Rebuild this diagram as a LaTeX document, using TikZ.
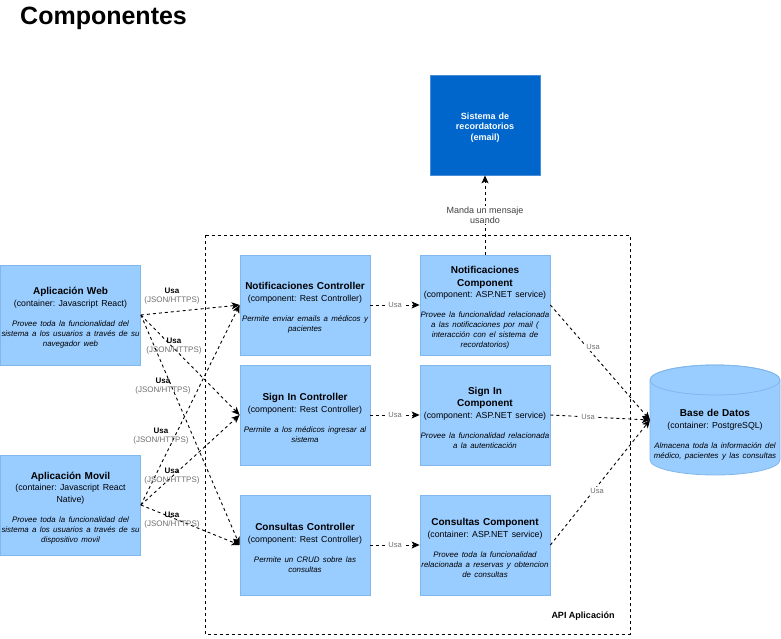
\documentclass[tikz,border=0pt]{standalone}
\usepackage{fontspec}
\setmainfont{Liberation Sans}
\usetikzlibrary{arrows.meta}
\definecolor{boxfill}{HTML}{99CCFF}
\definecolor{boxline}{HTML}{82B7EC}
\definecolor{extfill}{HTML}{0066CC}
\definecolor{extline}{HTML}{4A8FD6}
\definecolor{lblgray}{HTML}{6E6E6E}
\definecolor{lbldark}{HTML}{404040}
\frenchspacing
\newcommand{\cTitle}[1]{{\fontsize{10}{12.5}\selectfont\bfseries\rule{0pt}{13pt}#1\par}}
\newcommand{\cTech}[1]{{\fontsize{8.75}{11.5}\selectfont #1\par}\vspace{10pt}}
\newcommand{\cDesc}[1]{{\fontsize{7.9}{10}\selectfont\itshape #1\par}}
\newcommand{\relLbl}{{\bfseries Usa}\\{\color{lblgray}(JSON/HTTPS)}}
\tikzset{
  comp/.style={draw=boxline, fill=boxfill, line width=0.8pt, minimum width=130pt, minimum height=100pt,
    text width=144pt, inner xsep=-7pt, inner ysep=0pt, align=center},
  client/.style={comp, minimum width=140pt, text width=154pt},
  ext/.style={draw=extline, fill=extfill, line width=0.8pt, minimum width=110pt, minimum height=100pt,
    text width=110pt, inner xsep=0pt, align=center, text=white, font=\fontsize{9}{10.5}\selectfont\bfseries},
  rel/.style={draw=black, line width=0.9pt, dash pattern=on 3pt off 3pt, -{Stealth[length=8pt,width=7pt,inset=2pt]}},
  rl/.style={align=center, inner sep=0.5pt, font=\fontsize{8}{9.5}\selectfont},
  hl/.style={fill=white, inner sep=1.5pt, text=lblgray, font=\fontsize{7.5}{9}\selectfont},
  bnd/.style={draw=black, line width=0.9pt, dash pattern=on 3pt off 3pt}
}
\begin{document}
\begin{tikzpicture}[x=1pt, y=-1pt]
\useasboundingbox (0,0) rectangle (781,639);
% title
\node[anchor=base west, inner sep=0pt, font=\fontsize{25}{30}\selectfont\bfseries] (title) at (20,25) {Componentes};
% boundary
\draw[bnd] (205,235) rectangle (630,634);
\node[font=\fontsize{9}{11}\selectfont\bfseries] (api) at (583,616) {API Aplicación};
% clients
\node[client] (web) at (70.5,315) {\cTitle{Aplicación Web}\cTech{(container: Javascript React)}\cDesc{Provee toda la funcionalidad del\\sistema a los usuarios a través de su\\navegador web}};
\node[client] (movil) at (70.5,505) {\cTitle{Aplicación Movil}\cTech{(container: Javascript React\\Native)}\cDesc{Provee toda la funcionalidad del\\sistema a los usuarios a través de su\\dispositivo movil}};
% controllers
\node[comp] (nc) at (305,305) {\cTitle{Notificaciones Controller}\cTech{(component: Rest Controller)}\cDesc{Permite enviar emails a médicos y\\pacientes}};
\node[comp] (sc) at (305,415) {\cTitle{Sign In Controller}\cTech{(component: Rest Controller)}\cDesc{Permite a los médicos ingresar al\\sistema}};
\node[comp] (cc) at (305,545) {\cTitle{Consultas Controller}\cTech{(component: Rest Controller)}\cDesc{Permite un CRUD sobre las\\consultas}};
% components
\node[comp] (ncomp) at (485,305) {\cTitle{Notificaciones\\Component}\cTech{(component: ASP.NET service)}\cDesc{Provee la funcionalidad relacionada\\a las notificaciones por mail (\\interacción con el sistema de\\recordatorios)}};
\node[comp] (scomp) at (485,415) {\cTitle{Sign In\\Component}\cTech{(component: ASP.NET service)}\cDesc{Provee la funcionalidad relacionada\\a la autenticación}};
\node[comp] (ccomp) at (485,545) {\cTitle{Consultas Component}\cTech{(container: ASP.NET service)}\cDesc{Provee toda la funcionalidad\\relacionada a reservas y obtencion\\de consultas}};
% external system
\node[ext] (sis) at (485,125) {\rule{0pt}{11pt}Sistema de\\recordatorios\\(email)};
% database cylinder
\filldraw[fill=boxfill, draw=boxline, line width=0.8pt] (650,380) -- (650,460)
  arc[start angle=180, end angle=360, x radius=65pt, y radius=15pt] -- (780,380)
  arc[start angle=0, end angle=180, x radius=65pt, y radius=15pt] -- cycle;
\draw[draw=boxline, line width=0.8pt] (715,380) ellipse [x radius=65pt, y radius=15pt];
\node[minimum width=130pt, minimum height=110pt, text width=144pt, inner xsep=-7pt, inner ysep=0pt, align=center] (db) at (715,432)
  {\cTitle{Base de Datos}\cTech{(container: PostgreSQL)}\cDesc{Almacena toda la información del\\médico, pacientes y las consultas}};
\coordinate (dbw) at (650,420);
% client relations
\draw[rel] (web.east) -- (nc.west) node[rl] (l1) at (172,296) {\relLbl};
\draw[rel] (web.east) -- (sc.west) node[rl] (l2) at (174,346) {\relLbl};
\draw[rel] (web.east) -- (cc.west) node[rl] (l3) at (163,386) {\relLbl};
\draw[rel] (movil.east) -- (nc.west) node[rl] (l4) at (161,436) {\relLbl};
\draw[rel] (movil.east) -- (sc.west) node[rl] (l5) at (172,476) {\relLbl};
\draw[rel] (movil.east) -- (cc.west) node[rl] (l6) at (172,520) {\relLbl};
% controller -> component
\draw[rel] (nc.east) -- node[hl] (h1) {Usa} (ncomp.west);
\draw[rel] (sc.east) -- node[hl] (h2) {Usa} (scomp.west);
\draw[rel] (cc.east) -- node[hl] (h3) {Usa} (ccomp.west);
% notif -> sistema
\draw[rel] (ncomp.north) -- node[fill=white, inner sep=1pt, align=center, text=lbldark, font=\fontsize{9}{10}\selectfont] (m1) {Manda un mensaje\\usando} (sis.south);
% components -> db
\draw[rel] (ncomp.east) -- (dbw) node[hl] (d1) at (593,347) {Usa};
\draw[rel] (scomp.east) -- (dbw) node[hl] (d2) at (588,417) {Usa};
\draw[rel] (ccomp.east) -- (dbw) node[hl] (d3) at (597,491) {Usa};
\end{tikzpicture}
\end{document}
